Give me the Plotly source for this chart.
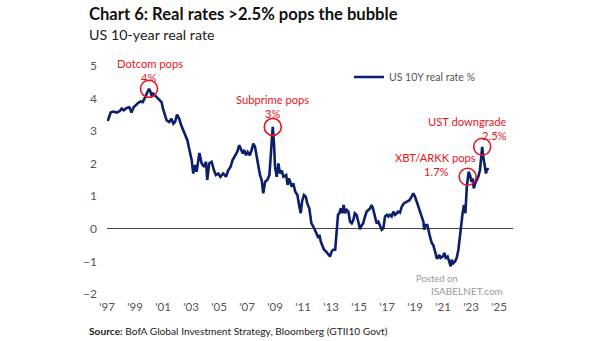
import plotly.graph_objects as go

# US 10-year real rate (TIPS yield), % -- decimal years
years = [
    1997.05, 1997.26, 1997.45, 1997.70, 1997.90, 1998.05, 1998.20, 1998.40, 1998.60, 1998.75,
    1998.90, 1999.07, 1999.24, 1999.40, 1999.55, 1999.70, 1999.83, 2000.00, 2000.07, 2000.20,
    2000.30, 2000.45, 2000.60, 2000.73, 2000.90, 2001.00, 2001.16, 2001.26, 2001.45, 2001.60,
    2001.74, 2001.86, 2002.00, 2002.16, 2002.30, 2002.40, 2002.57, 2002.74, 2002.84, 2002.93,
    2003.05, 2003.16, 2003.30, 2003.40, 2003.55, 2003.60, 2003.76, 2003.93, 2004.07, 2004.16,
    2004.30, 2004.47, 2004.64, 2004.78, 2004.95, 2005.10, 2005.30, 2005.50, 2005.66, 2005.83,
    2005.97, 2006.14, 2006.30, 2006.45, 2006.55, 2006.70, 2006.80, 2006.93, 2007.05, 2007.20,
    2007.33, 2007.45, 2007.57, 2007.70, 2007.83, 2007.93, 2008.05, 2008.16, 2008.30, 2008.45,
    2008.60, 2008.74, 2008.84, 2008.93, 2009.00, 2009.12, 2009.24, 2009.36, 2009.48, 2009.60,
    2009.80, 2009.90, 2010.00, 2010.20, 2010.30, 2010.45, 2010.60, 2010.74, 2010.84, 2010.93,
    2011.07, 2011.20, 2011.30, 2011.45, 2011.60, 2011.74, 2011.86, 2012.00, 2012.10, 2012.17,
    2012.27, 2012.40, 2012.50, 2012.64, 2012.80, 2012.93, 2013.05, 2013.16, 2013.30, 2013.40,
    2013.50, 2013.60, 2013.70, 2013.80, 2013.90, 2014.00, 2014.12, 2014.24, 2014.36, 2014.48,
    2014.60, 2014.70, 2014.83, 2014.95, 2015.07, 2015.20, 2015.30, 2015.43, 2015.55, 2015.67,
    2015.80, 2015.90, 2016.00, 2016.14, 2016.26, 2016.38, 2016.50, 2016.62, 2016.74, 2016.86,
    2017.00, 2017.10, 2017.20, 2017.33, 2017.45, 2017.57, 2017.70, 2017.80, 2017.93, 2018.05,
    2018.20, 2018.40, 2018.60, 2018.76, 2018.88, 2019.00, 2019.12, 2019.24, 2019.36, 2019.48,
    2019.60, 2019.66, 2019.74, 2019.88, 2019.98, 2020.07, 2020.20, 2020.30, 2020.43, 2020.55,
    2020.64, 2020.74, 2020.83, 2020.98, 2021.10, 2021.20, 2021.33, 2021.45, 2021.55, 2021.62,
    2021.74, 2021.86, 2021.98, 2022.10, 2022.20, 2022.30, 2022.40, 2022.50, 2022.60, 2022.70,
    2022.76, 2022.83, 2022.93, 2023.03, 2023.12, 2023.20, 2023.30, 2023.40, 2023.52, 2023.64,
    2023.74, 2023.80, 2023.88, 2023.98, 2024.07, 2024.16, 2024.24,
]
real_rate = [
    3.31, 3.57, 3.60, 3.57, 3.61, 3.69, 3.64, 3.71, 3.73, 3.57,
    3.73, 3.81, 3.87, 3.91, 3.89, 4.02, 4.15, 4.30, 4.25, 4.08,
    4.15, 4.08, 4.02, 3.98, 3.89, 3.69, 3.49, 3.33, 3.28, 3.38,
    3.23, 3.28, 3.51, 3.38, 3.18, 3.08, 2.87, 2.72, 2.52, 2.36,
    2.11, 1.70, 1.96, 1.75, 2.31, 2.33, 2.01, 1.91, 2.06, 1.50,
    2.01, 2.06, 1.80, 1.65, 1.70, 1.60, 1.70, 1.60, 1.80, 1.91,
    2.11, 2.26, 2.36, 2.57, 2.47, 2.31, 2.42, 2.26, 2.36, 2.26,
    2.42, 2.62, 2.52, 2.21, 2.01, 1.65, 1.50, 1.09, 1.45, 1.50,
    1.65, 2.42, 3.13, 2.62, 1.91, 1.60, 2.01, 1.70, 1.80, 1.60,
    1.65, 1.35, 1.55, 1.29, 1.40, 1.14, 1.04, 0.68, 0.48, 0.84,
    1.04, 0.99, 0.79, 0.63, 0.17, 0.07, -0.03, -0.18, -0.28, -0.18,
    -0.39, -0.54, -0.64, -0.69, -0.80, -0.85, -0.69, -0.64, -0.64, -0.03,
    0.43, 0.48, 0.63, 0.48, 0.73, 0.48, 0.58, 0.53, 0.22, 0.17,
    0.28, 0.48, 0.43, 0.22, -0.01, 0.12, 0.17, 0.38, 0.53, 0.58,
    0.63, 0.73, 0.63, 0.38, 0.17, 0.22, 0.07, -0.03, 0.02, 0.38,
    0.43, 0.38, 0.43, 0.38, 0.53, 0.43, 0.48, 0.53, 0.50, 0.68,
    0.78, 0.84, 0.88, 0.99, 1.09, 0.99, 0.84, 0.63, 0.48, 0.33,
    0.22, -0.03, 0.12, 0.12, -0.13, -0.24, -0.44, -0.49, -0.69, -0.89,
    -0.89, -0.80, -0.89, -0.85, -0.74, -0.89, -0.85, -1.00, -1.15, -0.95,
    -1.05, -1.00, -0.89, -0.64, -0.24, 0.07, 0.48, 0.73, 0.48, 1.29,
    1.60, 1.75, 1.65, 1.45, 1.55, 1.24, 1.40, 1.50, 1.60, 1.80,
    2.26, 2.52, 2.21, 1.86, 1.70, 1.86, 1.80,
]

# Highlighted peaks (bubble pops): event name and the rate quoted for it
peak_years = [2000.00, 2008.84, 2022.76, 2023.80]
peak_names = ["Dotcom pops", "Subprime pops", "XBT/ARKK pops", "UST downgrade"]
peak_quotes = ["4%", "3%", "1.7%", "2.5%"]

tick_years = list(range(1997, 2026, 2))
tick_text = ["'" + str(y)[2:] for y in tick_years]
y_ticks = [-2, -1, 0, 1, 2, 3, 4, 5]

NAVY = "#0c1f6b"
RED = "#e8141c"
GREY = "#555555"
FONT = "Lato, sans-serif"

# plot-area geometry in pixels
W_FIG, H_FIG = 605, 341
L, R, T, B = 107, 92, 66, 47
PW, PH = W_FIG - L - R, H_FIG - T - B


def px(x):
    return (x - L) / PW


def py(y):
    return (H_FIG - B - y) / PH


peak_values = [real_rate[years.index(y)] for y in peak_years]

fig = go.Figure()
fig.add_trace(go.Scatter(
    x=years, y=real_rate, mode="lines", name="US 10Y real rate %",
    line=dict(color=NAVY, width=2.6), hoverinfo="x+y",
))
fig.add_trace(go.Scatter(
    x=peak_years, y=peak_values, mode="markers", showlegend=False,
    marker=dict(symbol="circle-open", size=17, color=RED, line=dict(width=1.6, color=RED)),
    hoverinfo="skip",
))

annotations = [
    dict(text="<b>Chart 6: Real rates >2.5% pops the bubble</b>", x=px(87), y=py(14),
         font=dict(size=16.6, color="#111111")),
    dict(text="US 10-year real rate", x=px(87), y=py(34), font=dict(size=14.3, color="#222222")),
    dict(text="<b>Source:</b> BofA Global Investment Strategy, Bloomberg (GTII10 Govt)",
         x=px(87), y=py(331), font=dict(size=10.2, color="#222222")),
    dict(text="Posted on", x=px(414), y=py(278), font=dict(size=9.5, color="#9a9a9a")),
    dict(text="ISABELNET.com", x=px(429), y=py(291), font=dict(size=10, color="#9a9a9a")),
]
for a in annotations:
    a.update(xref="paper", yref="paper", xanchor="left", yanchor="middle", showarrow=False)

# peak call-outs: (x px, anchor, row px) for the name line and the quote line
callout_pos = [
    ((150, "center", 63), (148, "center", 77)),
    ((272, "center", 99), (272, "center", 113)),
    ((435, "center", 157), (436, "center", 171)),
    ((509, "right", 121), (509, "right", 135)),
]
for name, quote, (line1, line2) in zip(peak_names, peak_quotes, callout_pos):
    for text, (x_px, anchor, y_px) in ((name, line1), (quote, line2)):
        annotations.append(dict(
            text=text, x=px(x_px), y=py(y_px), xref="paper", yref="paper",
            xanchor=anchor, yanchor="middle", showarrow=False,
            font=dict(size=11.2, color=RED),
        ))

fig.update_layout(
    width=W_FIG, height=H_FIG,
    margin=dict(l=L, r=R, t=T, b=B, pad=0),
    paper_bgcolor="white", plot_bgcolor="white",
    font=dict(family=FONT, size=11.5, color=GREY),
    showlegend=True,
    legend=dict(x=px(349), y=py(77), xanchor="left", yanchor="middle",
                bgcolor="rgba(0,0,0,0)", font=dict(size=10.5, color=GREY)),
    xaxis=dict(range=[1997, 2026], tickvals=tick_years, ticktext=tick_text,
               showgrid=False, zeroline=False, showline=False, ticks="",
               ticklabelstandoff=4, tickfont=dict(size=11.5, color=GREY)),
    yaxis=dict(range=[-2, 5], tickvals=y_ticks, showgrid=False,
               zeroline=True, zerolinecolor="#444444", zerolinewidth=1,
               showline=False, ticks="", ticklabelstandoff=9,
               tickfont=dict(size=12, color=GREY)),
    annotations=annotations,
)

fig.write_html("out.html")
